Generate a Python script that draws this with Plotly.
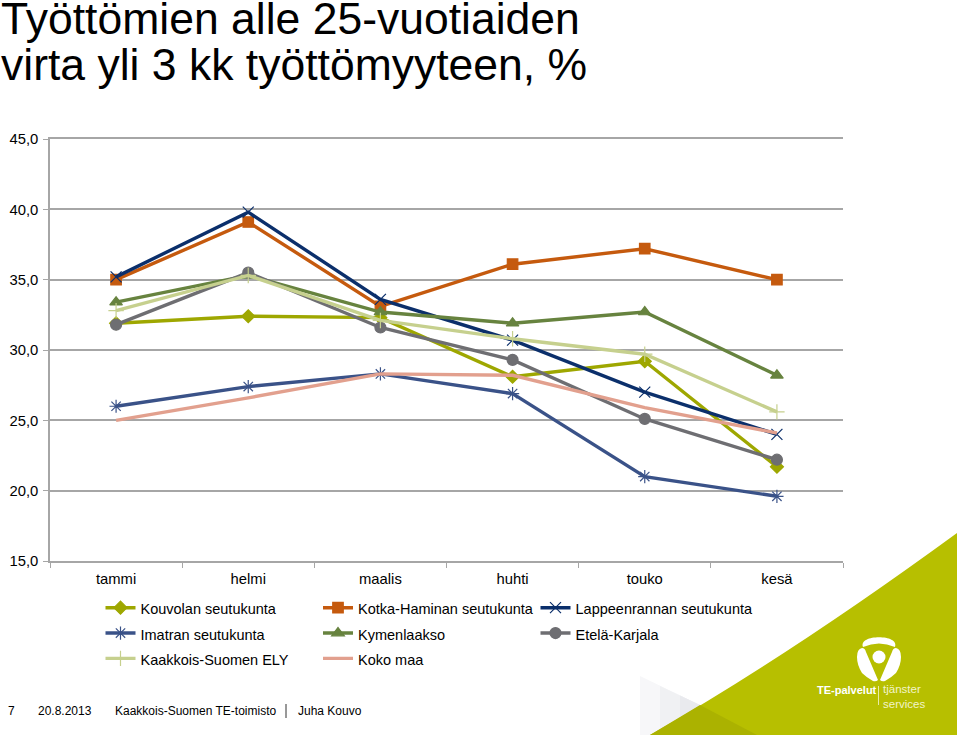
import plotly.graph_objects as go

W, H = 960, 737
FONT = "Liberation Sans"
L, R, T, B = 50, 843, 139, 561

months = ["tammi", "helmi", "maalis", "huhti", "touko", "kesä"]
kouvola = [31.9, 32.4, 32.3, 28.1, 29.2, 21.7]
kotka = [35.0, 39.1, 33.1, 36.1, 37.2, 35.0]
lappeenranta = [35.2, 39.8, 33.6, 30.7, 27.0, 24.0]
imatra = [26.0, 27.4, 28.3, 26.9, 21.0, 19.6]
kymenlaakso = [33.4, 35.3, 32.7, 31.9, 32.7, 28.2]
etela_karjala = [31.8, 35.5, 31.6, 29.3, 25.1, 22.2]
kaakkois = [32.8, 35.3, 32.1, 30.8, 29.7, 25.6]
koko_maa = [25.0, 26.6, 28.3, 28.2, 25.9, 24.1]

series = [
    ("Kouvolan seutukunta", kouvola, "#9EA700", "diamond", 10),
    ("Kotka-Haminan seutukunta", kotka, "#C55A0E", "square", 10.5),
    ("Lappeenrannan seutukunta", lappeenranta, "#0B2F6B", "x-thin-open", 11),
    ("Imatran seutukunta", imatra, "#3A5288", "asterisk-open", 11),
    ("Kymenlaakso", kymenlaakso, "#67833F", "triangle-up", 11),
    ("Etelä-Karjala", etela_karjala, "#6E6E72", "circle", 11),
    ("Kaakkois-Suomen ELY", kaakkois, "#C6D08E", "cross-thin-open", 11),
    ("Koko maa", koko_maa, "#E2A08E", None, 0),
]

fig = go.Figure()
for name, vals, col, sym, size in series:
    marker = dict(color=col, size=size, line=dict(color=col, width=1.2)) if sym else None
    if sym:
        marker["symbol"] = sym
    fig.add_trace(go.Scatter(
        x=months, y=vals, name=f'<span style="font-size:14.5px">{name}</span>',
        mode="lines+markers" if sym else "lines",
        line=dict(color=col, width=3.4),
        marker=marker,
    ))


def px(x):
    return (x - L) / (R - L)


def py(y):
    return (B - y) / (B - T)


def path(*parts):
    out = []
    for p in parts:
        if isinstance(p, str):
            out.append(p)
        else:
            out.append(f"{px(p[0]):.5f},{py(p[1]):.5f}")
    return " ".join(out)


def pshape(d, fill, layer="below"):
    return dict(type="path", xref="paper", yref="paper", path=d, fillcolor=fill,
                line=dict(width=0), layer=layer)


LIME = "#B7BF00"
shapes = [
    pshape(path("M", (640, 676), "L", (700, 705), "L", (650, 735), "L", (640, 735), "Z"), "#F7F7F9"),
    pshape(path("M", (660, 686), "L", (700, 705), "L", (660, 729), "Z"), "#F0F1F3"),
    pshape(path("M", (680, 695.5), "L", (700, 705), "L", (680, 717), "Z"), "#E9EAEE"),
    pshape(path("M", (650, 735), "Q", (790, 655), (957, 533), "L", (957, 735), "Z"), LIME),
    pshape(path("M", (650, 735), "L", (700, 705), "L", (757, 735), "Z"), "#ABB200"),
    pshape(path("M", (863, 647), "C", (858, 634), (900, 634), (895, 647), "Q", (879, 640), (863, 647), "Z"), "#FFFFFF"),
    pshape(path("M", (857, 657), "Q", (857, 649), (862, 648), "Q", (865, 648), (866, 652), "L", (878, 680),
                "Q", (876, 682), (873, 681), "Q", (866, 677), (862, 673), "Q", (857, 665), (857, 657), "Z"), "#FFFFFF"),
    pshape(path("M", (901, 657), "Q", (901, 649), (896, 648), "Q", (893, 648), (892, 652), "L", (880, 680),
                "Q", (882, 682), (885, 681), "Q", (892, 677), (896, 673), "Q", (901, 665), (901, 657), "Z"), "#FFFFFF"),
    dict(type="circle", xref="paper", yref="paper", x0=px(872.5), x1=px(885.5), y0=py(663.5), y1=py(650.5),
         fillcolor="#FFFFFF", line=dict(width=0), layer="below"),
    dict(type="line", xref="paper", yref="paper", x0=px(878.5), x1=px(878.5), y0=py(686), y1=py(705),
         line=dict(color="#E8EBA8", width=1), layer="below"),
    dict(type="line", xref="paper", yref="paper", x0=px(286), x1=px(286), y0=py(704), y1=py(718),
         line=dict(color="#333333", width=1), layer="below"),
]


def note(text, x, y, size, color="#000000", bold=False):
    return dict(text=f"<b>{text}</b>" if bold else text, x=px(x), y=py(y), xref="paper", yref="paper",
                xanchor="left", yanchor="middle", showarrow=False, align="left",
                font=dict(family=FONT, size=size, color=color), borderpad=0, borderwidth=0)


annotations = [
    note("Työttömien alle 25-vuotiaiden", 1, 18.5, 44.5),
    note("virta yli 3 kk työttömyyteen, %", 1, 64, 44.5),
    note("7", 8, 711, 12),
    note("20.8.2013", 38, 711, 12),
    note("Kaakkois-Suomen TE-toimisto", 115, 711, 12),
    note("Juha Kouvo", 298, 711, 12),
    note("TE-palvelut", 817, 690, 11, "#FFFFFF", True),
    note("tjänster<br>services", 883, 696, 11.5, "#F2F4C8"),
]

GRID = "#A6A6A6"
fig.update_layout(
    width=W, height=H,
    margin=dict(l=L, r=W - R, t=T, b=H - B, pad=0, autoexpand=False),
    paper_bgcolor="#FFFFFF", plot_bgcolor="#FFFFFF",
    font=dict(family=FONT, size=14.5, color="#000000"),
    separators=", ",
    showlegend=True,
    hovermode=False,
    shapes=shapes,
    annotations=annotations,
    xaxis=dict(range=[-0.5, 5.5], type="category",
               categoryorder="array", categoryarray=months,
               tickson="boundaries", ticks="outside", ticklen=5, tickcolor=GRID, tickwidth=1,
               showgrid=False, showline=True, linecolor=GRID, linewidth=2, zeroline=False,
               mirror=True, ticklabelstandoff=3,
               tickfont=dict(size=14.8)),
    yaxis=dict(range=[15, 45], dtick=5, tickformat=".1f",
               ticks="outside", ticklen=5, tickcolor=GRID, tickwidth=1,
               showgrid=True, gridcolor=GRID, gridwidth=1.5,
               showline=True, linecolor=GRID, linewidth=1.5, zeroline=False,
               ticklabelstandoff=2,
               tickfont=dict(size=14.8)),
    legend=dict(orientation="h", x=px(100.5), y=py(590), xanchor="left", yanchor="top",
                entrywidth=172.5, entrywidthmode="pixels", itemwidth=30, tracegroupgap=0,
                font=dict(family=FONT, size=17.2, color="#000000"),
                bgcolor="rgba(0,0,0,0)", borderwidth=0, traceorder="normal"),
)

fig.write_html("out.html", config={"displayModeBar": False},
               post_script="document.body.style.margin='0';")
